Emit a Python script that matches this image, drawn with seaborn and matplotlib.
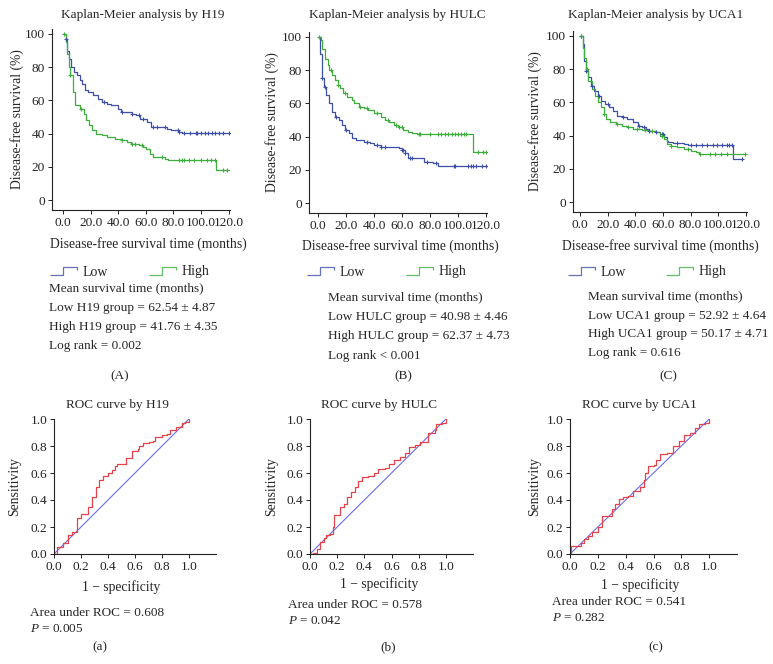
import numpy as np
import pandas as pd
import matplotlib
matplotlib.use("Agg")
import matplotlib.pyplot as plt
from matplotlib.lines import Line2D
from matplotlib.path import Path
from matplotlib.ticker import FormatStrFormatter, MultipleLocator
import seaborn as sns

# ---- Kaplan-Meier step data (time in months, survival in %) ----
h19_low_t = [0, 2, 3, 4, 6, 8, 10, 12, 14, 16, 18, 22, 25, 28, 32, 35, 40, 42, 50, 53, 56, 61, 64, 75, 78, 84, 86, 120]
h19_low_s = [100, 97, 90, 85, 80, 77, 75, 72, 70, 66, 65, 63, 61, 59, 58, 57, 55, 53, 52, 51, 49, 47, 44, 43, 42, 41, 40.5, 40.5]
h19_high_t = [0, 2, 3, 4, 5, 7, 9, 12, 15, 17, 19, 21, 24, 28, 32, 38, 43, 46, 49, 55, 58, 60, 63, 65, 74, 76, 111, 120]
h19_high_s = [100, 95, 88, 80, 75, 65, 57, 55, 52, 48, 45, 42, 40, 39, 38, 37, 36, 35, 34, 33, 32, 31, 28, 26, 25, 24, 18, 18]
h19_low_cens = [2, 30, 43, 50, 55, 58, 65, 68, 74, 83, 84, 88, 92, 96, 97, 100, 103, 105, 108, 110, 113, 116, 120]
h19_high_cens = [1, 5, 13, 43, 50, 52, 57, 72, 84, 86, 88, 91, 95, 100, 104, 107, 110, 116, 119]

hulc_low_t = [0, 1.5, 3, 4, 6, 8, 10, 12, 15, 17, 19, 22, 24, 27, 33, 37, 40, 45, 58, 60, 62, 64, 76, 82, 86, 120]
hulc_low_s = [100, 90, 75, 70, 65, 60, 55, 52, 50, 47, 44, 42, 39, 38, 37, 36, 35, 34, 33, 32, 30, 27, 25, 24, 22.5, 22.5]
hulc_high_t = [0, 2, 3, 5, 7, 8, 10, 12, 14, 16, 18, 21, 24, 26, 29, 33, 36, 40, 45, 48, 51, 54, 57, 61, 64, 67, 71, 111, 120]
hulc_high_s = [100, 98, 93, 87, 83, 80, 77, 74, 71, 69, 66, 64, 62, 60, 58, 57, 56, 54, 52, 50, 49, 47, 46, 44, 43, 42, 41.5, 31, 31]
hulc_low_cens = [3, 5, 13, 20, 35, 42, 45, 48, 60, 61, 62, 66, 67, 78, 84, 97, 98, 107, 109, 111, 113, 117, 120]
hulc_high_cens = [1, 9, 14, 19, 30, 35, 42, 50, 56, 58, 60, 72, 73, 80, 86, 88, 91, 93, 96, 98, 100, 102, 104, 106, 114, 118, 120]

uca1_low_t = [0, 2, 3, 4, 6, 8, 10, 13, 15, 18, 21, 24, 27, 30, 34, 38, 42, 45, 48, 50, 55, 58, 61, 63, 64, 67, 75, 78, 111, 118]
uca1_low_s = [100, 95, 85, 79, 75, 70, 67, 64, 61, 59, 57, 55, 52, 51, 50, 48, 46, 45, 44, 43, 42, 41, 39, 37, 36, 35.5, 35, 34.5, 26, 26]
uca1_high_t = [0, 2, 3, 4, 6, 9, 11, 13, 15, 17, 19, 22, 26, 30, 35, 38, 45, 50, 55, 58, 61, 63, 66, 70, 75, 80, 84, 86, 120]
uca1_high_s = [100, 93, 87, 80, 73, 68, 64, 60, 57, 53, 50, 48, 47, 46, 45, 44, 43.5, 43, 42, 40, 38, 35, 34, 33, 32, 31, 30, 29, 29]
uca1_low_cens = [1, 4, 9, 14, 20, 31, 43, 46, 50, 55, 59, 60, 70, 80, 84, 88, 92, 96, 99, 103, 106, 108, 110, 117]
uca1_high_cens = [1, 5, 17, 27, 35, 41, 47, 52, 59, 66, 78, 87, 94, 98, 102, 106, 119]

# ---- ROC curves (1 - specificity, sensitivity) ----
roc_h19_x = [0, 0.02, 0.02, 0.05, 0.07, 0.1, 0.1, 0.13, 0.17, 0.17, 0.2, 0.25, 0.25, 0.28, 0.3, 0.31, 0.33, 0.36, 0.4, 0.43, 0.45, 0.47, 0.53, 0.53, 0.58, 0.58, 0.62, 0.63, 0.66, 0.7, 0.73, 0.75, 0.8, 0.84, 0.86, 0.9, 0.95, 0.97, 1.0]
roc_h19_y = [0, 0.03, 0.05, 0.05, 0.08, 0.1, 0.14, 0.16, 0.17, 0.27, 0.3, 0.3, 0.35, 0.42, 0.42, 0.5, 0.55, 0.58, 0.6, 0.62, 0.65, 0.67, 0.67, 0.71, 0.72, 0.76, 0.78, 0.8, 0.82, 0.83, 0.84, 0.87, 0.88, 0.89, 0.92, 0.94, 0.97, 0.98, 1.0]
roc_hulc_x = [0, 0.02, 0.05, 0.07, 0.1, 0.12, 0.15, 0.17, 0.18, 0.18, 0.21, 0.22, 0.25, 0.27, 0.3, 0.33, 0.35, 0.38, 0.43, 0.47, 0.5, 0.55, 0.58, 0.62, 0.66, 0.7, 0.73, 0.77, 0.81, 0.85, 0.87, 0.92, 0.93, 0.97, 1.0]
roc_hulc_y = [0, 0.01, 0.04, 0.09, 0.12, 0.14, 0.15, 0.2, 0.22, 0.29, 0.29, 0.35, 0.37, 0.42, 0.46, 0.5, 0.54, 0.57, 0.58, 0.6, 0.63, 0.64, 0.67, 0.7, 0.72, 0.75, 0.79, 0.81, 0.83, 0.83, 0.9, 0.92, 0.96, 0.97, 1.0]
roc_uca1_x = [0, 0.005, 0.06, 0.08, 0.1, 0.13, 0.16, 0.2, 0.23, 0.27, 0.3, 0.32, 0.35, 0.38, 0.42, 0.45, 0.5, 0.53, 0.54, 0.56, 0.6, 0.62, 0.65, 0.7, 0.74, 0.78, 0.82, 0.86, 0.9, 0.93, 0.97, 1.0]
roc_uca1_y = [0, 0.06, 0.06, 0.08, 0.11, 0.13, 0.16, 0.2, 0.28, 0.28, 0.33, 0.37, 0.41, 0.42, 0.43, 0.47, 0.5, 0.55, 0.6, 0.65, 0.66, 0.7, 0.74, 0.75, 0.8, 0.84, 0.88, 0.9, 0.93, 0.96, 0.97, 1.0]

genes = ["H19", "HULC", "UCA1"]
km_stats = [("62.54 ± 4.87", "41.76 ± 4.35", "Log rank = 0.002"),
            ("40.98 ± 4.46", "62.37 ± 4.73", "Log rank < 0.001"),
            ("52.92 ± 4.64", "50.17 ± 4.71", "Log rank = 0.616")]
roc_auc = ["0.608", "0.578", "0.541"]
roc_p = ["0.005", "0.042", "0.282"]

BLUE = "#3e4fa6"
GREEN = "#3dae3d"
RED = "#e4434a"
DIAG = "#6b6be6"

sns.set_theme(style="ticks")
plt.rcParams["font.family"] = ["Liberation Serif", "DejaVu Serif"]
plt.rcParams["mathtext.fontset"] = "custom"
plt.rcParams["mathtext.rm"] = "Liberation Serif"
plt.rcParams["mathtext.it"] = "Liberation Serif:italic"
plt.rcParams["axes.linewidth"] = 0.8
plt.rcParams["axes.edgecolor"] = "#222222"

W, H = 773, 664
fig = plt.figure(figsize=(W / 100, H / 100), dpi=100)


def box(x0, y0, x1, y1):
    return [x0 / W, 1 - y1 / H, (x1 - x0) / W, (y1 - y0) / H]


def ftext(x, y, s, **kw):
    kw.setdefault("fontsize", 9.5)
    kw.setdefault("va", "center")
    fig.text(x / W, 1 - y / H, s, **kw)


def style_axis(ax):
    sns.despine(ax=ax)
    ax.tick_params(direction="out", length=3, width=0.7, pad=2, labelsize=9.6, colors="#222222")
    ax.grid(False)


def km_curve(ax, t, s, cens, color):
    d = pd.DataFrame({"t": t, "s": s})
    sns.lineplot(data=d, x="t", y="s", ax=ax, color=color, lw=0.9,
                 drawstyle="steps-post", estimator=None, sort=False)
    idx = np.searchsorted(np.array(t), np.array(cens), side="right") - 1
    c = pd.DataFrame({"t": cens, "s": np.array(s)[idx]})
    sns.scatterplot(data=c, x="t", y="s", ax=ax, color=color, marker="+",
                    s=10, linewidth=0.8, zorder=3)


km_data = [
    (h19_low_t, h19_low_s, h19_low_cens, h19_high_t, h19_high_s, h19_high_cens),
    (hulc_low_t, hulc_low_s, hulc_low_cens, hulc_high_t, hulc_high_s, hulc_high_cens),
    (uca1_low_t, uca1_low_s, uca1_low_cens, uca1_high_t, uca1_high_s, uca1_high_cens),
]
km_boxes = [(52, 29, 230, 210), (309, 32, 487, 213), (573, 31, 747, 212)]
km_xlim = [(-8, 121), (-6.4, 120.7), (-5.1, 120.8)]
km_title_x = [143, 397, 656]
km_xlabel = [(148, 244), (400, 246), (660, 246)]
km_ylabel_x = [24, 279, 542]
legend_pos = [(54, 153), (311, 410), (572, 670)]
text_x = [49, 328, 588]
text_y = [(288, 308, 327, 346), (297, 317, 336, 356), (296, 316, 334, 353)]
panel_lbl = [(120, "(A)"), (403, "(B)"), (668, "(C)")]

step_glyph = Path([(-1.0, -0.3), (-0.15, -0.3), (-0.15, 0.3), (0.85, 0.3), (0.85, 0.05)],
                  [Path.MOVETO, Path.LINETO, Path.LINETO, Path.LINETO, Path.LINETO])

for i, g in enumerate(genes):
    lt, ls_, lc, ht, hs, hc = km_data[i]
    b = km_boxes[i]
    ax = fig.add_axes(box(*b))
    km_curve(ax, lt, ls_, lc, BLUE)
    km_curve(ax, ht, hs, hc, GREEN)
    ax.set_xlim(*km_xlim[i])
    ax.set_ylim(-6, 103)
    ax.xaxis.set_major_locator(MultipleLocator(20))
    ax.yaxis.set_major_locator(MultipleLocator(20))
    ax.xaxis.set_major_formatter(FormatStrFormatter("%.1f"))
    ax.yaxis.set_major_formatter(FormatStrFormatter("%d"))
    style_axis(ax)
    ax.set_xlabel("")
    ax.set_ylabel("Disease-free survival (%)", fontsize=9.8)
    ax.yaxis.set_label_coords((km_ylabel_x[i] - b[0]) / (b[2] - b[0]), 0.5)
    ftext(km_title_x[i], 15, "Kaplan-Meier analysis by " + g, ha="center")
    ftext(km_xlabel[i][0], km_xlabel[i][1], "Disease-free survival time (months)", ha="center", fontsize=9.8)

    # legend glyphs + labels
    for lx, lab, col in zip(legend_pos[i], ["Low", "High"], [BLUE, GREEN]):
        fig.lines.append(Line2D([(lx + 11) / W], [1 - 271 / H], marker=step_glyph,
                                markersize=21, mfc="none", mec=col, mew=0.9, alpha=0.8,
                                linestyle="none", transform=fig.transFigure))
        ftext(lx + 29, 272, lab, ha="left", fontsize=10)

    lo, hi, lr = km_stats[i]
    ty = text_y[i]
    ftext(text_x[i], ty[0], "Mean survival time (months)", ha="left")
    ftext(text_x[i], ty[1], "Low %s group = %s" % (g, lo), ha="left")
    ftext(text_x[i], ty[2], "High %s group = %s" % (g, hi), ha="left")
    ftext(text_x[i], ty[3], lr, ha="left")
    ftext(panel_lbl[i][0], 376, panel_lbl[i][1], ha="center")

# ---- ROC panels ----
roc_data = [(roc_h19_x, roc_h19_y), (roc_hulc_x, roc_hulc_y), (roc_uca1_x, roc_uca1_y)]
roc_boxes = [(54, 419, 216, 554), (310, 419, 473, 554), (570, 419, 737, 554)]
roc_title_x = [117, 379, 639]
roc_xlabel = [(121, 587), (379, 584), (640, 585)]
roc_ylabel_x = [21, 278, 541]
roc_text = [(30, 613, 629), (288, 605, 621), (552, 602, 618)]
roc_lbl = [(100, "(a)"), (388, "(b)"), (656, "(c)")]

for i, g in enumerate(genes):
    b = roc_boxes[i]
    ax = fig.add_axes(box(*b))
    diag = pd.DataFrame({"x": [0, 1], "y": [0, 1]})
    sns.lineplot(data=diag, x="x", y="y", ax=ax, color=DIAG, lw=0.8, estimator=None, sort=False)
    rd = pd.DataFrame({"x": roc_data[i][0], "y": roc_data[i][1]})
    sns.lineplot(data=rd, x="x", y="y", ax=ax, color=RED, lw=0.9, estimator=None, sort=False,
                 drawstyle="steps-post")
    ax.set_xlim(0, 1.2)
    ax.set_ylim(0, 1.0)
    ax.set_xticks([0, 0.2, 0.4, 0.6, 0.8, 1.0])
    ax.set_yticks([0, 0.2, 0.4, 0.6, 0.8, 1.0])
    ax.xaxis.set_major_formatter(FormatStrFormatter("%.1f"))
    ax.yaxis.set_major_formatter(FormatStrFormatter("%.1f"))
    style_axis(ax)
    ax.set_xlabel("")
    ax.set_ylabel("Sensitivity", fontsize=9.8)
    ax.yaxis.set_label_coords((roc_ylabel_x[i] - b[0]) / (b[2] - b[0]), 0.5)
    ftext(roc_title_x[i], 405, "ROC curve by " + g, ha="center")
    ftext(roc_xlabel[i][0], roc_xlabel[i][1], "1 \u2212 specificity", ha="center", fontsize=9.8)
    tx, ty1, ty2 = roc_text[i]
    ftext(tx, ty1, "Area under ROC = " + roc_auc[i], ha="left")
    ftext(tx, ty2, r"$\it{P}$ = " + roc_p[i], ha="left")
    ftext(roc_lbl[i][0], 647, roc_lbl[i][1], ha="center")

fig.savefig("out.png", dpi=100)
